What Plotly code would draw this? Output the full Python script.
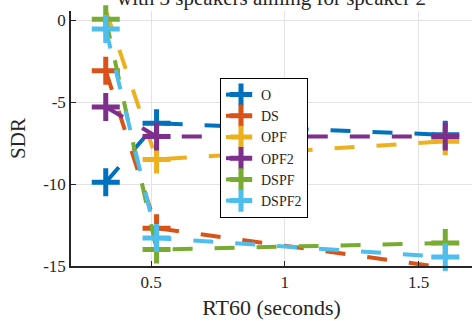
import plotly.graph_objects as go

rt60 = [0.33, 0.52, 1.6]
names = ["O", "DS", "OPF", "OPF2", "DSPF", "DSPF2"]
sdr_O = [-9.9, -6.3, -7.0]
sdr_DS = [-3.1, -12.7, -15.1]
sdr_OPF = [0.6, -8.5, -7.4]
sdr_OPF2 = [-5.3, -7.1, -7.1]
sdr_DSPF = [0.05, -14.0, -13.6]
sdr_DSPF2 = [-0.55, -13.3, -14.45]
series = [sdr_O, sdr_DS, sdr_OPF, sdr_OPF2, sdr_DSPF, sdr_DSPF2]
colors = ["#0072BD", "#D95319", "#EDB120", "#7E2F8E", "#77AC30", "#4DBEEE"]

ytick_vals = [0, -5, -10, -15]
ytick_text = ["0", "-5", "-10", "-15"]
xtick_vals = [0.5, 1, 1.5]
xtick_text = ["0.5", "1", "1.5"]

font = "'Liberation Serif', 'DejaVu Serif', serif"
fig = go.Figure()
for n, s, c in zip(names, series, colors):
    fig.add_trace(go.Scatter(
        x=rt60, y=s, name=n, mode="lines+markers",
        line=dict(color=c, width=4, dash="20px,22px"),
        marker=dict(symbol="cross-thin", size=20, line=dict(color=c, width=5)),
        cliponaxis=False,
    ))

fig.update_layout(
    width=472, height=321,
    margin=dict(l=71, r=0, t=11, b=55),
    paper_bgcolor="white", plot_bgcolor="white",
    font=dict(family=font, color="#262626", size=17),
    showlegend=True,
    legend=dict(x=(220 - 71) / 401, y=(266 - 78) / 255, xanchor="left", yanchor="top",
                bgcolor="white", bordercolor="black", borderwidth=1,
                font=dict(size=14, family=font, color="#262626"),
                tracegroupgap=0),
    annotations=[dict(text="with 3 speakers aiming for speaker 2", xref="paper", yref="paper",
                      x=0.5, y=1, xanchor="center", yanchor="bottom", yshift=-1,
                      showarrow=False, font=dict(size=21, family=font, color="#262626"))],
)
fig.update_xaxes(range=[0.2, 1.7], tickvals=xtick_vals, ticktext=xtick_text,
                 showgrid=True, gridcolor="#E3E3E3", gridwidth=1, zeroline=False,
                 showline=True, linecolor="#262626", linewidth=1.5,
                 ticks="inside", ticklen=5, tickcolor="#262626",
                 title=dict(text="RT60 (seconds)", font=dict(size=22, family=font), standoff=8),
                 tickfont=dict(size=17, family=font))
fig.update_yaxes(range=[-15, 0.55], tickvals=ytick_vals, ticktext=ytick_text,
                 showgrid=True, gridcolor="#E3E3E3", gridwidth=1, zeroline=False,
                 showline=True, linecolor="#262626", linewidth=1.5,
                 ticks="inside", ticklen=5, tickcolor="#262626",
                 title=dict(text="SDR", font=dict(size=21, family=font), standoff=12),
                 tickfont=dict(size=17, family=font))
fig.write_html("out.html", config={"displayModeBar": False},
               post_script="document.body.style.margin='0';")
